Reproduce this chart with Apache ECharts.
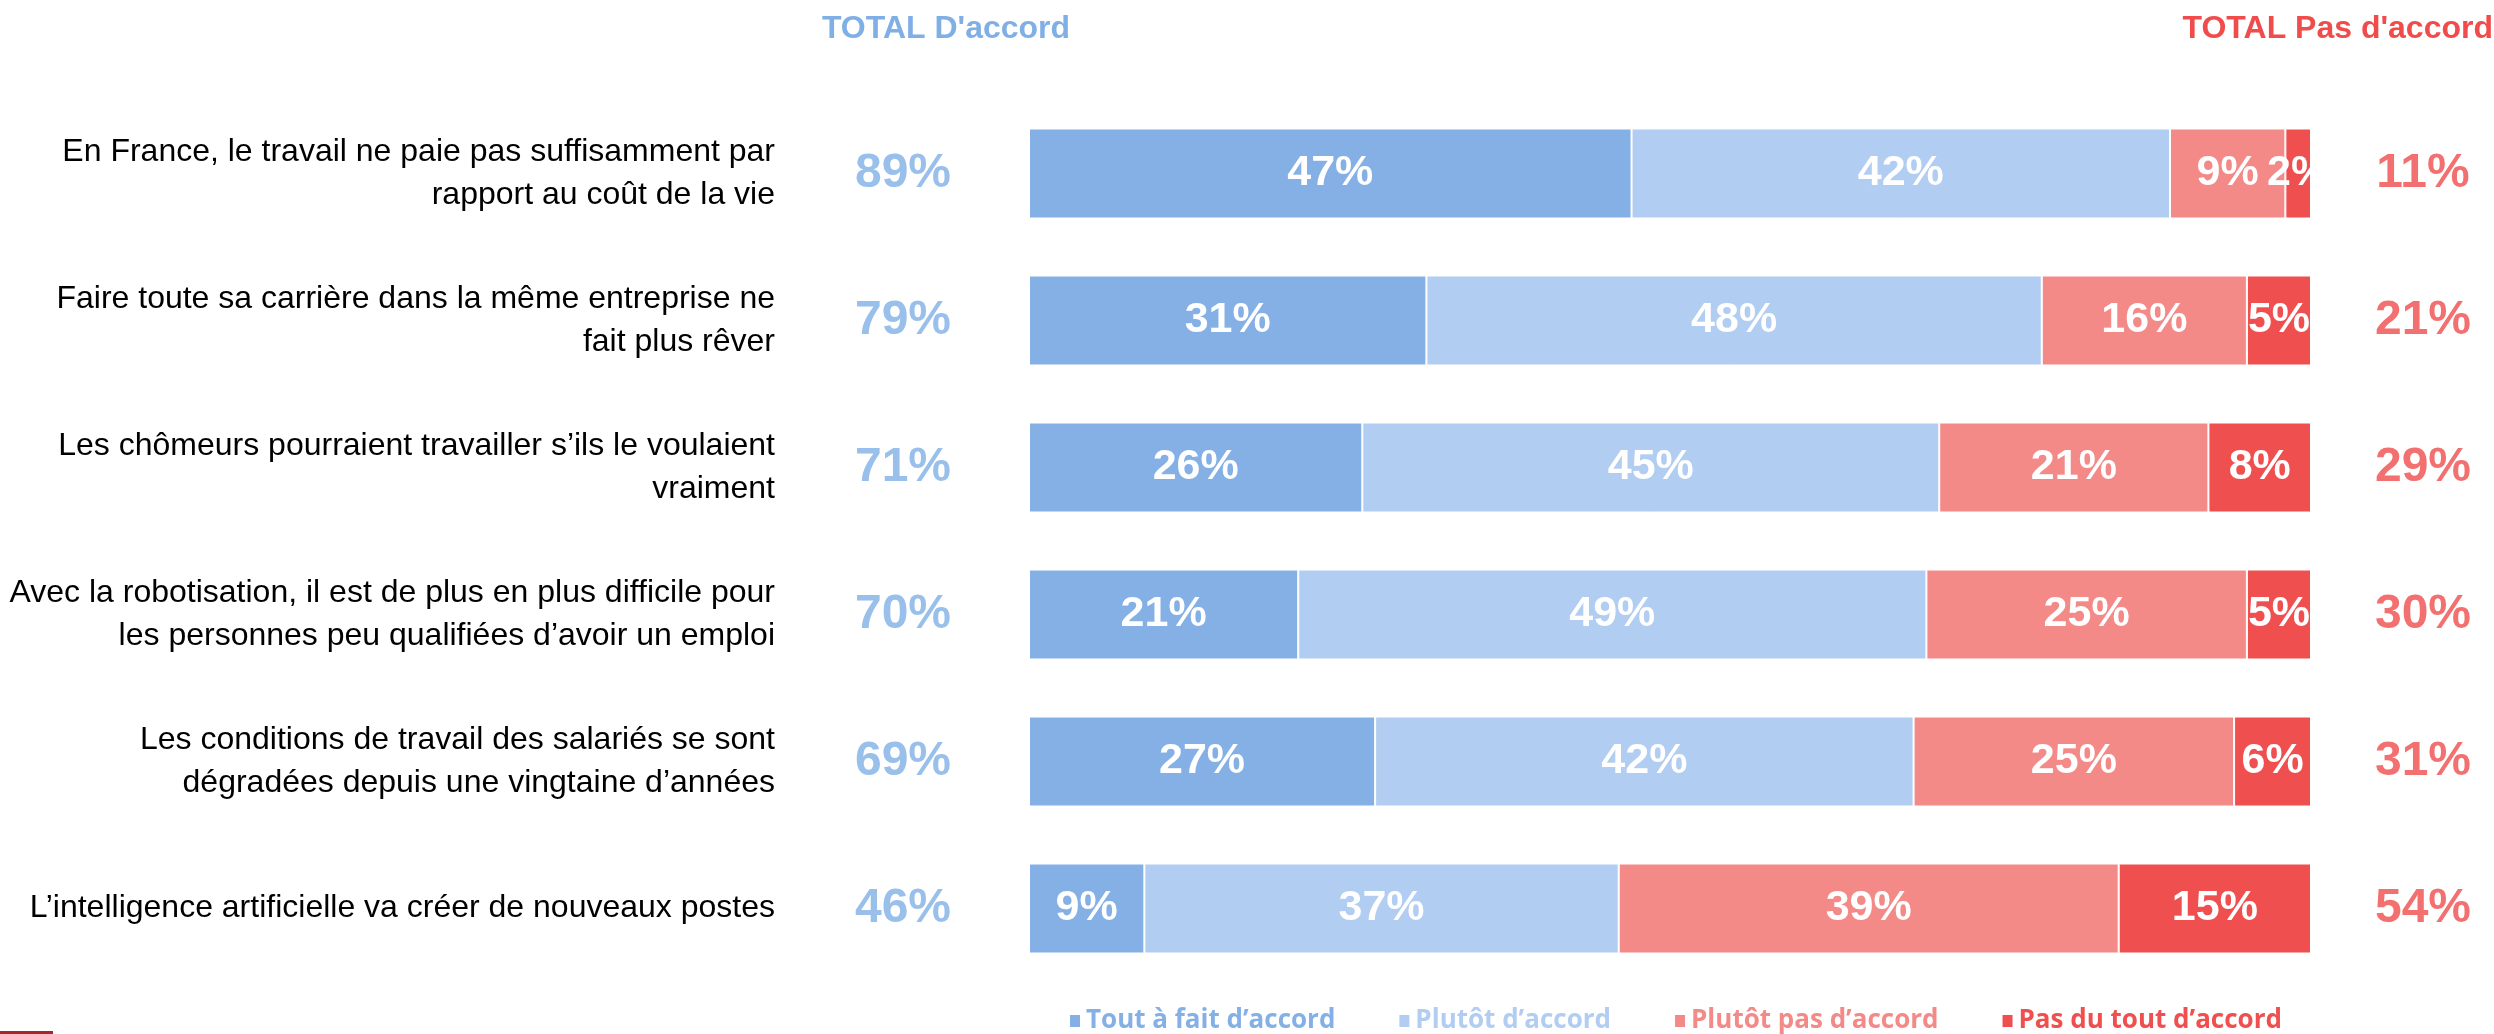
<!DOCTYPE html>
<html><head><meta charset="utf-8">
<script src="https://cdn.jsdelivr.net/npm/echarts@6/dist/echarts.min.js"></script>
<style>html,body{margin:0;padding:0;background:#fff}#c{width:2494px;height:1034px}</style>
</head><body><div id="c"></div>
<script>
const categories = [
  'En France, le travail ne paie pas suffisamment par\nrapport au coût de la vie',
  'Faire toute sa carrière dans la même entreprise ne\nfait plus rêver',
  'Les chômeurs pourraient travailler s’ils le voulaient\nvraiment',
  'Avec la robotisation, il est de plus en plus difficile pour\nles personnes peu qualifiées d’avoir un emploi',
  'Les conditions de travail des salariés se sont\ndégradées depuis une vingtaine d’années',
  'L’intelligence artificielle va créer de nouveaux postes'
];
const seriesNames = ['Tout à fait d’accord','Plutôt d’accord','Plutôt pas d’accord','Pas du tout d’accord'];
const toutAFait = [47,31,26,21,27,9];
const plutot = [42,48,45,49,42,37];
const plutotPas = [9,16,21,25,25,39];
const pasDuTout = [2,5,8,5,6,15];
const totalAccord = [89,79,71,70,69,46];
const totalPasAccord = [11,21,29,30,31,54];
const headers = ['TOTAL D\'accord','TOTAL Pas d\'accord'];

const colors = ['#84B0E6','#B1CDF1','#F48A88','#F04F4F'];
const blueHead = '#80AFE6', redHead = '#F04C4C';
const values = [toutAFait, plutot, plutotPas, pasDuTout];
const TOP = 100, BOTTOM = 52;
const chart = echarts.init(document.getElementById('c'));
const barSeries = seriesNames.map((n,k)=>({
  name:n, type:'bar', stack:'a', barWidth:90, data:values[k],
  itemStyle:{color:colors[k], borderColor:'#fff', borderWidth:1},
  label:{show:true, position:'inside', color:'#fff', fontWeight:'bold', fontSize:43, fontFamily:'Liberation Sans', formatter:'{c}%'},
  silent:true
}));
function totalSeries(arr, idx, color){
  return {type:'scatter', xAxisIndex:idx, yAxisIndex:idx, symbolSize:1, silent:true,
    itemStyle:{color:'rgba(0,0,0,0)'},
    data: arr.map((v,i)=>[0.5,i]),
    label:{show:true, position:'inside', color:color, fontWeight:'bold', fontSize:48, fontFamily:'Liberation Sans',
      formatter:p=>arr[p.dataIndex]+'%'}};
}
chart.setOption({
  animation:false,
  backgroundColor:'#fff',
  grid:[
    {left:1029, right:183, top:TOP, bottom:BOTTOM},
    {left:853, width:100, top:TOP, bottom:BOTTOM},
    {left:2373, width:100, top:TOP, bottom:BOTTOM}
  ],
  xAxis:[
    {type:'value', min:0, max:100, show:false, gridIndex:0},
    {type:'value', min:0, max:1, show:false, gridIndex:1},
    {type:'value', min:0, max:1, show:false, gridIndex:2}
  ],
  yAxis:[
    {type:'category', data:categories, inverse:true, gridIndex:0,
      axisLine:{show:false}, axisTick:{show:false}, splitLine:{show:false},
      axisLabel:{fontSize:32, color:'#000', fontFamily:'Liberation Sans', align:'right', margin:254, lineHeight:43}},
    {type:'category', data:categories, inverse:true, gridIndex:1, show:false},
    {type:'category', data:categories, inverse:true, gridIndex:2, show:false}
  ],
  legend:{
    left:1063, top:1003, itemGap:62, itemWidth:12, itemHeight:14, icon:'rect',
    data: seriesNames.map((n,k)=>({name:n, textStyle:{color:colors[k]}})),
    textStyle:{fontFamily:'Open Sans', fontWeight:'bold', fontSize:26}
  },
  graphic:[
    {type:'text', x:946, y:29, style:{text:headers[0], align:'center', verticalAlign:'middle', fill:blueHead, font:'bold 32px "Liberation Sans"'}},
    {type:'text', x:2493, y:29, style:{text:headers[1], align:'right', verticalAlign:'middle', fill:redHead, font:'bold 32px "Liberation Sans"'}},
    {type:'rect', shape:{x:0, y:1031, width:53, height:3}, style:{fill:'#A3292E'}}
  ],
  series:[...barSeries, totalSeries(totalAccord,1,blueHead), totalSeries(totalPasAccord,2,redHead)]
});
</script></body></html>
